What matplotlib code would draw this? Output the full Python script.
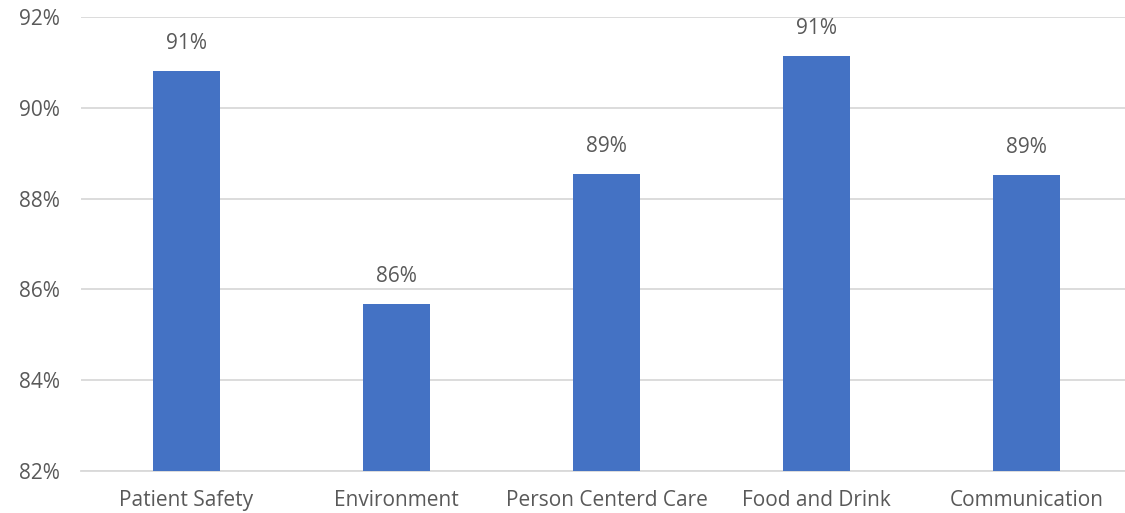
import matplotlib
matplotlib.use("Agg")
import matplotlib.pyplot as plt
from matplotlib.ticker import FuncFormatter

categories = ["Patient Safety", "Environment", "Person Centerd Care", "Food and Drink", "Communication"]
scores = [90.81, 85.68, 88.54, 91.14, 88.52]

bar_color = "#4472C4"
text_color = "#595959"
grid_color = "#D9D9D9"

plt.rcParams["font.family"] = ["Open Sans", "DejaVu Sans"]

fig = plt.figure(figsize=(11.25, 5.13), dpi=100)
ax = fig.add_axes([81 / 1125, 1 - 471 / 513, 1051 / 1125, 454 / 513])

x = list(range(len(categories)))
bars = ax.bar(x, scores, width=0.318, color=bar_color, zorder=3)

ax.set_ylim(82, 92)
ax.set_xlim(-0.5, len(categories) - 0.5)
ax.set_yticks(range(82, 93, 2))
ax.yaxis.set_major_formatter(FuncFormatter(lambda v, _: f"{round(v)}%"))
ax.set_xticks(x)
ax.set_xticklabels(categories)

ax.grid(axis="y", color=grid_color, linewidth=1.3, zorder=0)
for side in ["top", "right", "left"]:
    ax.spines[side].set_visible(False)
ax.spines["bottom"].set_color(grid_color)
ax.spines["bottom"].set_linewidth(1.3)
ax.tick_params(axis="both", length=0, labelsize=15, colors=text_color)
ax.tick_params(axis="y", pad=15)
ax.tick_params(axis="x", pad=14)

for rect, val in zip(bars, scores):
    ax.annotate(f"{int(val + 0.5)}%", (rect.get_x() + rect.get_width() / 2, val),
                xytext=(0, 12), textcoords="offset points",
                ha="center", va="bottom", fontsize=15, color=text_color)

fig.savefig("out.png", dpi=100)
